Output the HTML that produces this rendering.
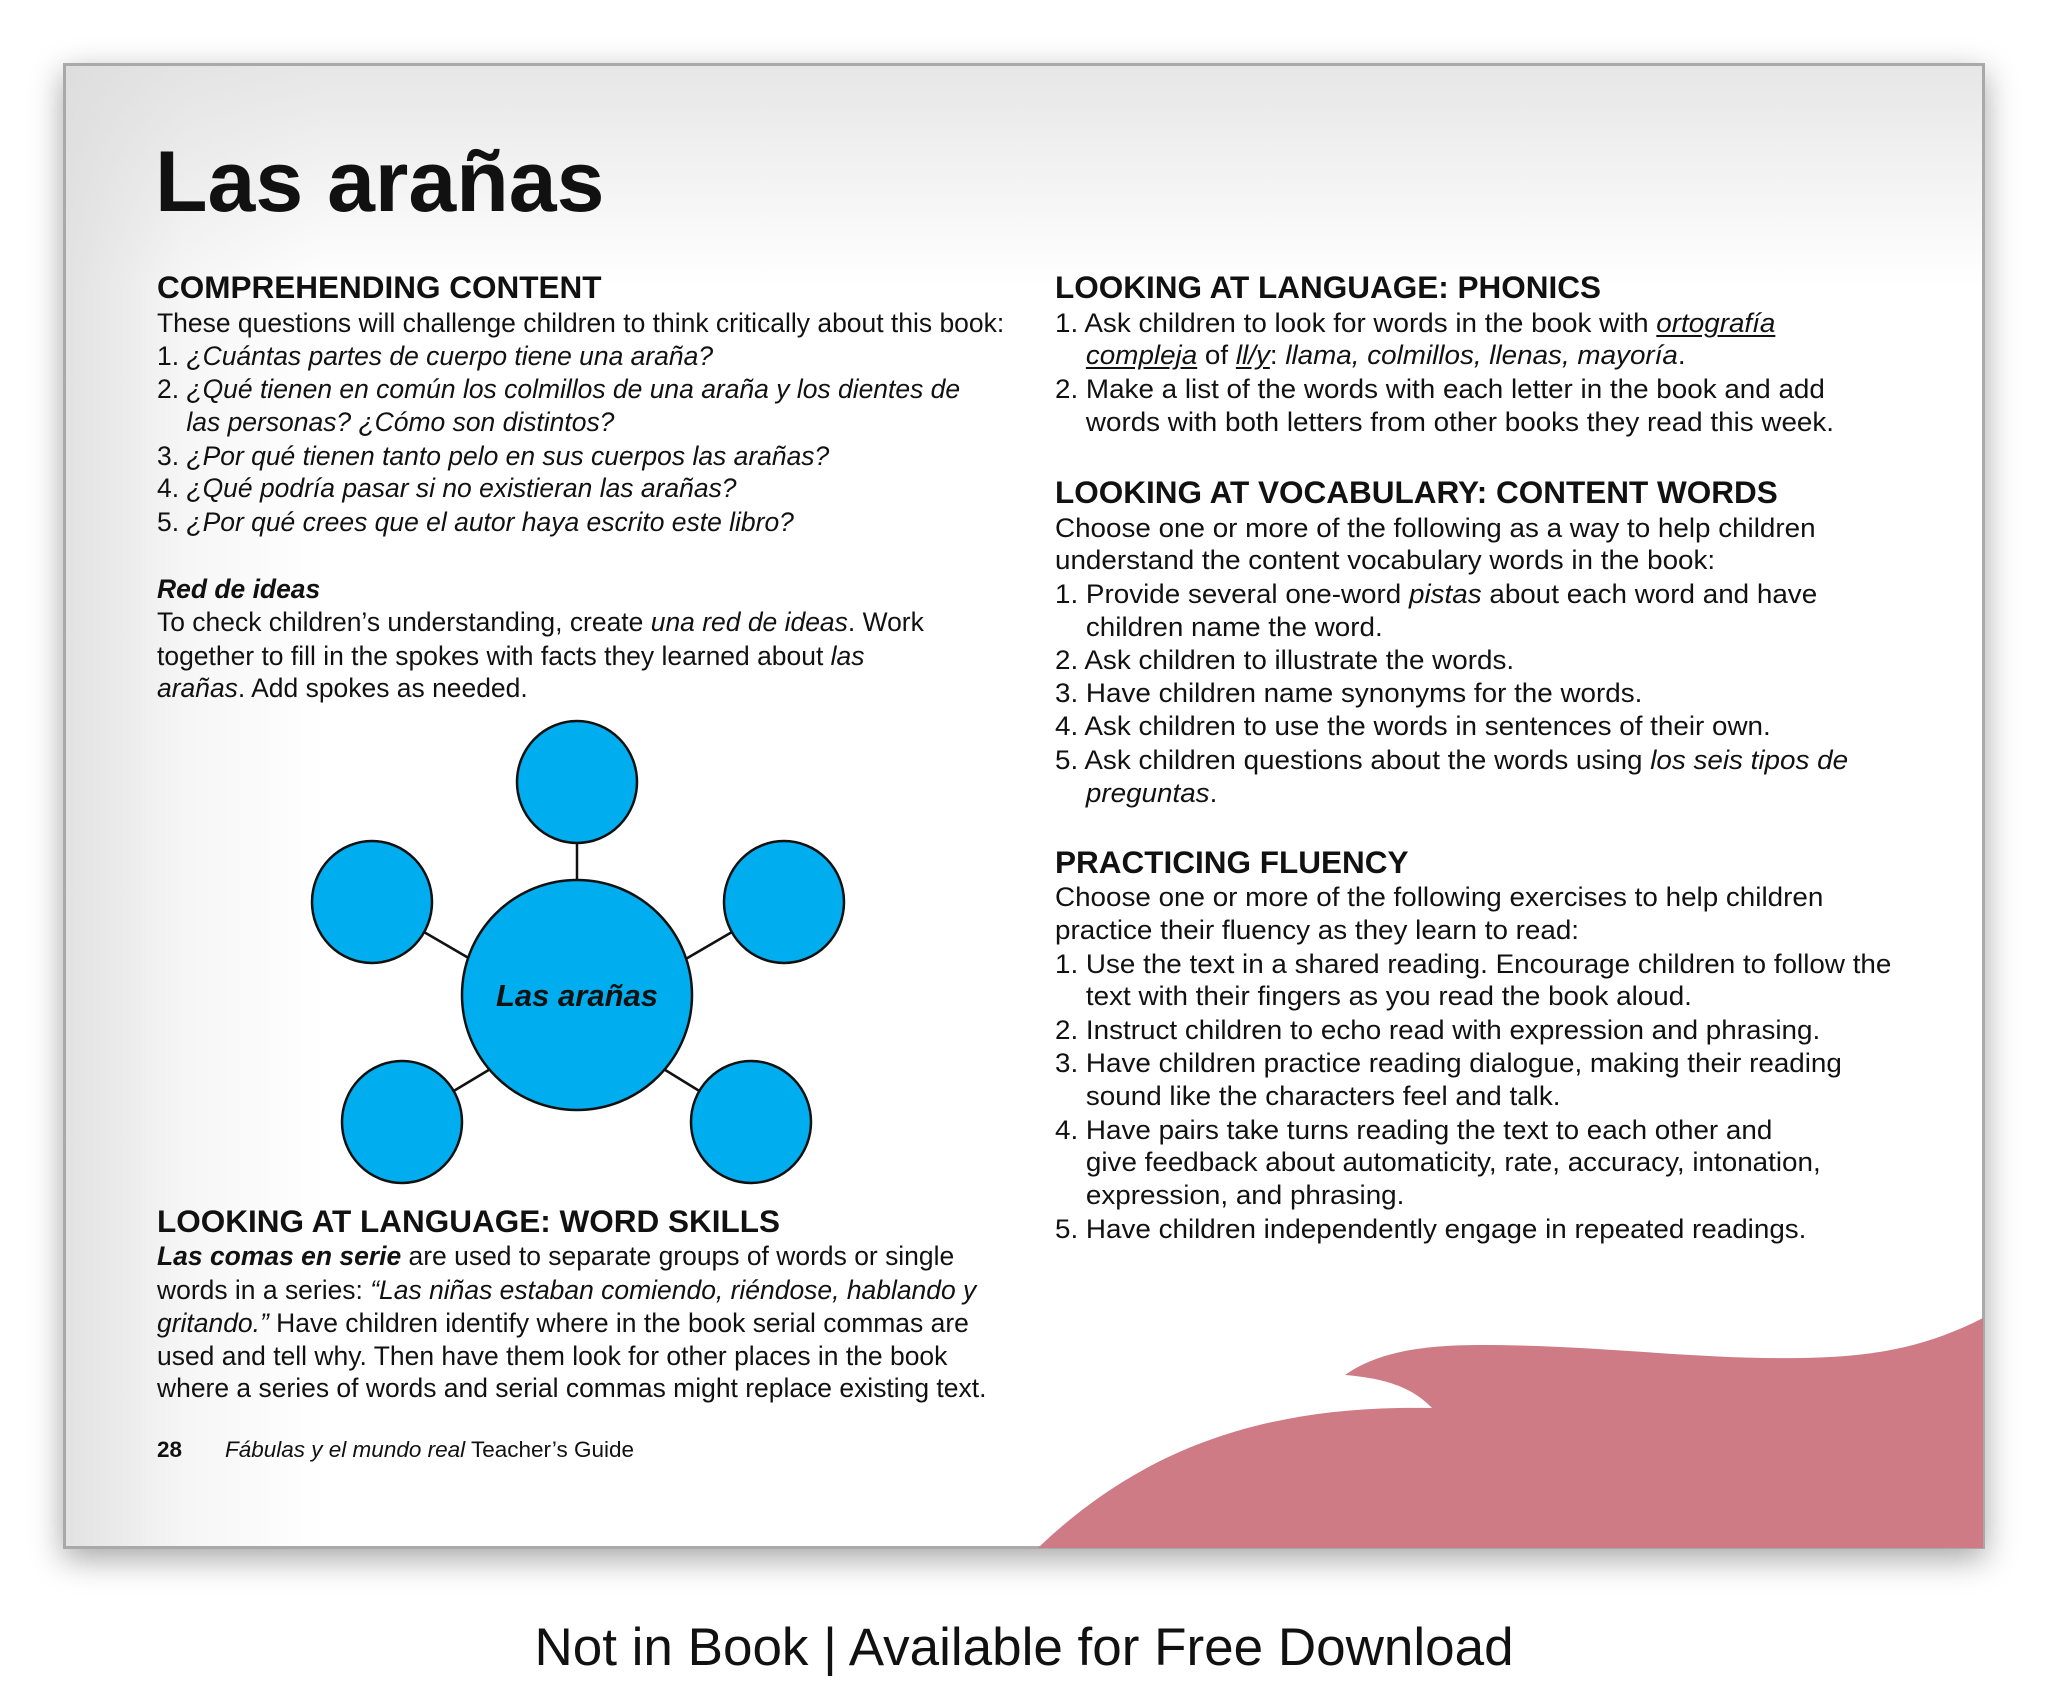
<!DOCTYPE html>
<html><head><meta charset="utf-8"><style>
*{margin:0;padding:0;box-sizing:border-box}
body{width:2048px;height:1706px;background:#fff;position:relative;overflow:hidden;font-family:"Liberation Sans",Arial,sans-serif;color:#111}
#page{position:absolute;left:63px;top:63px;width:1922px;height:1486px;border:3px solid #a9a9a9;box-shadow:0 10px 30px rgba(0,0,0,.35);background:linear-gradient(to right,#e2e2e2 0,#f6f6f6 120px,#fff 260px);overflow:hidden}
#page:before{content:"";position:absolute;left:0;top:0;right:0;height:220px;background:linear-gradient(to bottom,rgba(220,220,220,.7),rgba(255,255,255,0))}
.l{position:absolute;white-space:nowrap;font-size:27px;line-height:33px;transform:scaleX(.98);transform-origin:0 50%}
.r{transform:scaleX(1.03)}
.h{position:absolute;white-space:nowrap;font-size:31.5px;font-weight:bold;line-height:36px}
.in{padding-left:30px}
u{text-decoration:underline;text-underline-offset:3px}
</style></head><body>
<div id="page"></div>
<svg style="position:absolute;left:0;top:0" width="2048" height="1706">
<path d="M1038,1548 C1150,1440 1280,1405 1432,1408 C1410,1385 1380,1378 1345,1375 C1380,1350 1430,1345 1480,1345 C1600,1345 1700,1360 1800,1358 C1880,1357 1930,1345 1983,1318 L1983,1548 Z" fill="#cf7b86"/>
<g stroke="#111" stroke-width="2.5">
<line x1="577" y1="842" x2="577" y2="880"/>
<line x1="424" y1="932" x2="472" y2="960"/>
<line x1="732" y1="932" x2="684" y2="960"/>
<line x1="452" y1="1092" x2="492" y2="1068"/>
<line x1="701" y1="1092" x2="662" y2="1068"/>
<g fill="#00adee">
<ellipse cx="577" cy="782" rx="60" ry="61"/>
<ellipse cx="372" cy="902" rx="60" ry="61"/>
<ellipse cx="784" cy="902" rx="60" ry="61"/>
<ellipse cx="402" cy="1122" rx="60" ry="61"/>
<ellipse cx="751" cy="1122" rx="60" ry="61"/>
<ellipse cx="577" cy="995" rx="115" ry="115"/>
</g></g>
<text x="577" y="1006" text-anchor="middle" font-family="Liberation Sans" font-weight="bold" font-style="italic" font-size="31" fill="#111">Las arañas</text>
</svg>

<div style="position:absolute;left:155px;top:132px;font-size:86px;font-weight:bold;line-height:100px">Las arañas</div>

<div class="h" style="left:157px;top:269px">COMPREHENDING CONTENT</div>
<div class="l" style="left:157px;top:307px">These questions will challenge children to think critically about this book:</div>
<div class="l" style="left:157px;top:340px">1. <i>¿Cuántas partes de cuerpo tiene una araña?</i></div>
<div class="l" style="left:157px;top:373px">2. <i>¿Qué tienen en común los colmillos de una araña y los dientes de</i></div>
<div class="l in" style="left:157px;top:406px"><i>las personas? ¿Cómo son distintos?</i></div>
<div class="l" style="left:157px;top:440px">3. <i>¿Por qué tienen tanto pelo en sus cuerpos las arañas?</i></div>
<div class="l" style="left:157px;top:472px">4. <i>¿Qué podría pasar si no existieran las arañas?</i></div>
<div class="l" style="left:157px;top:506px">5. <i>¿Por qué crees que el autor haya escrito este libro?</i></div>
<div class="l" style="left:157px;top:573px"><b><i>Red de ideas</i></b></div>
<div class="l" style="left:157px;top:606px">To check children’s understanding, create <i>una red de ideas</i>. Work</div>
<div class="l" style="left:157px;top:640px">together to fill in the spokes with facts they learned about <i>las</i></div>
<div class="l" style="left:157px;top:672px"><i>arañas</i>. Add spokes as needed.</div>

<div class="h" style="left:157px;top:1203px">LOOKING AT LANGUAGE: WORD SKILLS</div>
<div class="l" style="left:157px;top:1240px"><b><i>Las comas en serie</i></b> are used to separate groups of words or single</div>
<div class="l" style="left:157px;top:1274px">words in a series: <i>“Las niñas estaban comiendo, riéndose, hablando y</i></div>
<div class="l" style="left:157px;top:1307px"><i>gritando.”</i> Have children identify where in the book serial commas are</div>
<div class="l" style="left:157px;top:1340px">used and tell why. Then have them look for other places in the book</div>
<div class="l" style="left:157px;top:1372px">where a series of words and serial commas might replace existing text.</div>

<div style="position:absolute;left:157px;top:1437px;font-size:22.5px;line-height:26px;white-space:nowrap"><b>28</b><span style="position:absolute;left:68px"><i>Fábulas y el mundo real</i> Teacher’s Guide</span></div>

<div class="h" style="left:1055px;top:269px">LOOKING AT LANGUAGE: PHONICS</div>
<div class="l r" style="left:1055px;top:307px">1. Ask children to look for words in the book with <i><u>ortografía </u></i></div>
<div class="l r in" style="left:1055px;top:339px"><i><u>compleja</u></i> of <i><u>ll/y</u></i>: <i>llama, colmillos, llenas, mayoría</i>.</div>
<div class="l r" style="left:1055px;top:373px">2. Make a list of the words with each letter in the book and add</div>
<div class="l r in" style="left:1055px;top:406px">words with both letters from other books they read this week.</div>

<div class="h" style="left:1055px;top:474px">LOOKING AT VOCABULARY: CONTENT WORDS</div>
<div class="l r" style="left:1055px;top:512px">Choose one or more of the following as a way to help children</div>
<div class="l r" style="left:1055px;top:544px">understand the content vocabulary words in the book:</div>
<div class="l r" style="left:1055px;top:578px">1. Provide several one-word <i>pistas</i> about each word and have</div>
<div class="l r in" style="left:1055px;top:611px">children name the word.</div>
<div class="l r" style="left:1055px;top:644px">2. Ask children to illustrate the words.</div>
<div class="l r" style="left:1055px;top:677px">3. Have children name synonyms for the words.</div>
<div class="l r" style="left:1055px;top:710px">4. Ask children to use the words in sentences of their own.</div>
<div class="l r" style="left:1055px;top:744px">5. Ask children questions about the words using <i>los seis tipos de</i></div>
<div class="l r in" style="left:1055px;top:777px"><i>preguntas</i>.</div>

<div class="h" style="left:1055px;top:844px">PRACTICING FLUENCY</div>
<div class="l r" style="left:1055px;top:881px">Choose one or more of the following exercises to help children</div>
<div class="l r" style="left:1055px;top:914px">practice their fluency as they learn to read:</div>
<div class="l r" style="left:1055px;top:948px">1. Use the text in a shared reading. Encourage children to follow the</div>
<div class="l r in" style="left:1055px;top:980px">text with their fingers as you read the book aloud.</div>
<div class="l r" style="left:1055px;top:1014px">2. Instruct children to echo read with expression and phrasing.</div>
<div class="l r" style="left:1055px;top:1047px">3. Have children practice reading dialogue, making their reading</div>
<div class="l r in" style="left:1055px;top:1080px">sound like the characters feel and talk.</div>
<div class="l r" style="left:1055px;top:1114px">4. Have pairs take turns reading the text to each other and</div>
<div class="l r in" style="left:1055px;top:1146px">give feedback about automaticity, rate, accuracy, intonation,</div>
<div class="l r in" style="left:1055px;top:1179px">expression, and phrasing.</div>
<div class="l r" style="left:1055px;top:1213px">5. Have children independently engage in repeated readings.</div>

<div style="position:absolute;left:0;width:2048px;top:1616px;text-align:center;font-size:53px;line-height:64px;color:#111">Not in Book | Available for Free Download</div>
</body></html>
